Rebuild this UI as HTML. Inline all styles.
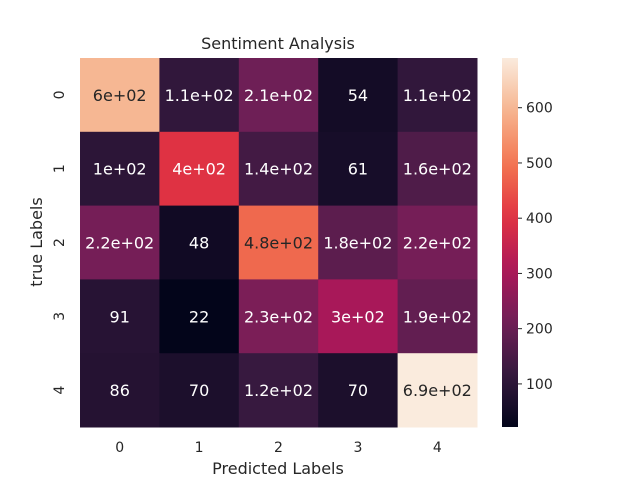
<!DOCTYPE html>
<html><head><meta charset="utf-8">
<style>
body{margin:0;background:#fff;}
svg text{font-family:"DejaVu Sans","Liberation Sans",sans-serif;}
</style></head>
<body>
<svg id="chart" width="640" height="480" viewBox="0 0 640 480">
<text x="278" y="49" font-size="16" text-anchor="middle" fill="#262626">Sentiment Analysis</text>
<text x="278" y="474" font-size="16" text-anchor="middle" fill="#262626">Predicted Labels</text>
<text transform="translate(42,242) rotate(-90)" font-size="16" text-anchor="middle" fill="#262626">true Labels</text>
<g id="cells"></g>
<defs><linearGradient id="cbgrad" x1="0" y1="1" x2="0" y2="0"></linearGradient></defs>
<rect x="502" y="58" width="16" height="369" fill="url(#cbgrad)"/>
<g id="cbticks"></g>
</svg>
<script>
const xCategories=["0","1","2","3","4"];
const yCategories=["0","1","2","3","4"];
const matrixValues=[
[600,110,210,54,110],
[100,400,140,61,160],
[220,48,480,180,220],
[91,22,230,300,190],
[86,70,120,70,690]];
const colorbarTicks=[100,200,300,400,500,600];

const NS="http://www.w3.org/2000/svg";
const svg=document.getElementById('chart');
const X0=80,X1=477,Y0=58,Y1=427;
const flat=matrixValues.flat();
const vmin=Math.min(...flat),vmax=Math.max(...flat);
const stops=[[0,[3,5,26]],[1/7,[0x35,0x19,0x3e]],[2/7,[0x70,0x1f,0x57]],[3/7,[0xad,0x17,0x59]],[4/7,[0xe1,0x33,0x42]],[5/7,[0xf3,0x76,0x51]],[6/7,[0xf6,0xb4,0x8f]],[1,[0xfa,0xeb,0xdd]]];
function cmap(t){t=Math.max(0,Math.min(1,t));for(let i=1;i<stops.length;i++){if(t<=stops[i][0]){const a=stops[i-1],b=stops[i];const f=(t-a[0])/(b[0]-a[0]);return a[1].map((c,k)=>Math.round(c+(b[1][k]-c)*f));}}return stops[7][1];}
function fmt(v){if(v===0)return"0";const e=Math.floor(Math.log10(Math.abs(v)));if(e>=2||e<-4){let m=(v/Math.pow(10,e)).toFixed(1).replace(/\.0$/,'');return m+"e"+(e<0?"-":"+")+String(Math.abs(e)).padStart(2,"0");}return String(parseFloat(v.toPrecision(2)));}
const nc=xCategories.length,nr=yCategories.length;
const cw=(X1-X0)/nc,ch=(Y1-Y0)/nr;
const xS=i=>X0+i*cw,yS=j=>Y0+j*ch;
const g=document.getElementById('cells');
function mk(tag,attrs,parent){const e=document.createElementNS(NS,tag);for(const k in attrs)e.setAttribute(k,attrs[k]);parent.appendChild(e);return e;}
matrixValues.forEach((row,j)=>row.forEach((v,i)=>{
 const c=cmap((v-vmin)/(vmax-vmin));
 const r=mk('rect',{x:xS(i),y:yS(j),width:cw+0.5,height:ch+0.5,fill:`rgb(${c})`},g);
 
 
 const lum=(0.2126*c[0]+0.7152*c[1]+0.0722*c[2])/255;
 const t=mk('text',{x:xS(i)+cw/2,y:yS(j)+ch/2+6,'font-size':16,'text-anchor':'middle',fill:lum>0.408?'#262626':'#fff'},g);
 t.textContent=fmt(v);
 
 
}));
xCategories.forEach((c,i)=>{
 const t=mk('text',{x:xS(i)+cw/2,y:452,'font-size':14,'text-anchor':'middle',fill:'#262626'},svg);
 t.textContent=c;
 
 
});
yCategories.forEach((c,j)=>{
 const yy=yS(j)+ch/2;
 const t=mk('text',{transform:`translate(64,${yy}) rotate(-90)`,'font-size':14,'text-anchor':'middle',fill:'#262626'},svg);
 t.textContent=c;
 
 
});
const grad=document.getElementById('cbgrad');
for(let k=0;k<=20;k++){const c=cmap(k/20);mk('stop',{offset:(k*5)+'%','stop-color':`rgb(${c})`},grad);}
const cbY=v=>Y1-(v-vmin)/(vmax-vmin)*(Y1-Y0);
const cb=document.getElementById('cbticks');
colorbarTicks.forEach(v=>{
 const y=cbY(v);
 const l=mk('line',{x1:518,x2:522,y1:y,y2:y,stroke:'#262626','stroke-width':1},cb);
 
 
 const t=mk('text',{x:526,y:y+5,'font-size':14,fill:'#262626'},cb);
 t.textContent=v;
 
 
});
</script>
</body></html>
